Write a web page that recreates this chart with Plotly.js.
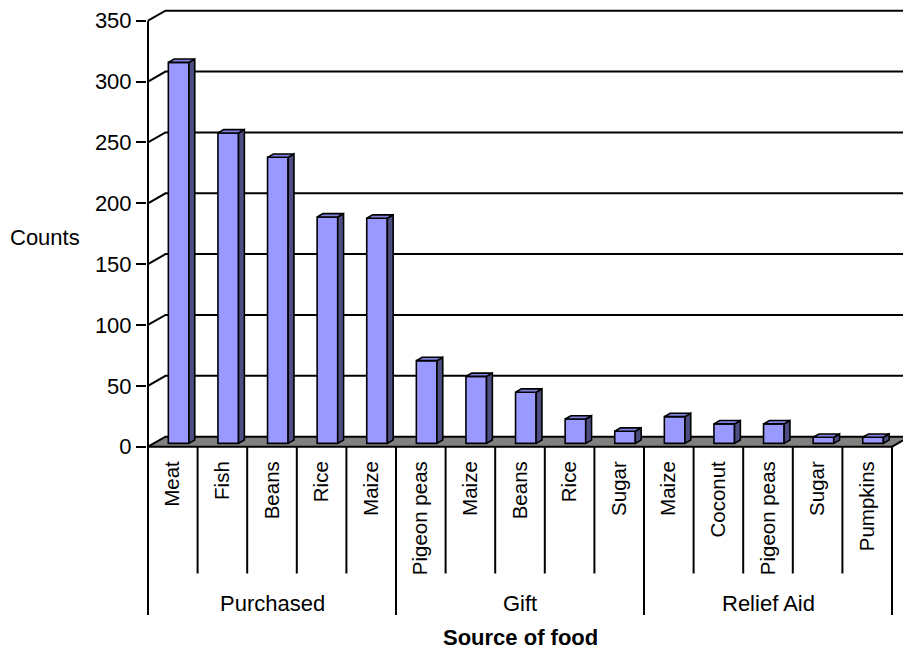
<!DOCTYPE html>
<html><head><meta charset="utf-8">
<script src="https://cdn.plot.ly/plotly-3.0.1.min.js"></script>
<style>html,body{margin:0;padding:0;background:#fff;}#chart{width:903px;height:651px;}</style>
</head><body><div id="chart"></div>
<script>
// ---- data ----
const foods = ["Meat","Fish","Beans","Rice","Maize","Pigeon peas","Maize","Beans","Rice","Sugar","Maize","Coconut","Pigeon peas","Sugar","Pumpkins"];
const sources = ["Purchased","Purchased","Purchased","Purchased","Purchased","Gift","Gift","Gift","Gift","Gift","Relief Aid","Relief Aid","Relief Aid","Relief Aid","Relief Aid"];
const groups = ["Purchased","Gift","Relief Aid"];
const counts = [313,255,235,186,185,68,55,42,20,10,22,16,16,5,5];
const yTicks = [0,50,100,150,200,250,300,350];

// ---- geometry ----
const W = 903, H = 651;
const ML = 147, MR = 0, MT = 9, MB = 202;
const pxPerCat = 49.6, pxPerUnit = 1.2172;
const zeroPxX = 148, zeroPxY = 446.7;
const plotW = W - ML - MR, plotH = H - MT - MB;
const xr0 = -(zeroPxX - ML) / pxPerCat, xr1 = xr0 + plotW / pxPerCat;
const yr0 = -((H - MB) - zeroPxY) / pxPerUnit, yr1 = yr0 + plotH / pxPerUnit;
const DX = 17.5 / pxPerCat, DY = 10 / pxPerUnit;   // wall depth
const bdx = DX / 3, bdy = DY / 3;                  // bar depth
const barW = 0.415;
const N = foods.length;
const FONT = 'Arial, "Liberation Sans", sans-serif';

const px2py = p => ((H - MB) - p) / plotH;  // pixel y -> paper y
const dx2pap = d => (d - xr0) / (xr1 - xr0);

const cx = foods.map((_, i) => i + 0.5 + bdx);

// faces
const sideX = [], sideY = [], topX = [], topY = [];
counts.forEach((v, i) => {
  const xl = cx[i] - barW / 2, xr = cx[i] + barW / 2;
  const b = bdy, t = bdy + v;
  sideX.push(xr, xr + bdx, xr + bdx, xr, xr, null);
  sideY.push(b, b + bdy, t + bdy, t, b, null);
  topX.push(xl, xl + bdx, xr + bdx, xr, xl, null);
  topY.push(t, t + bdy, t + bdy, t, t, null);
});

const traces = [
  {type: 'bar', x: cx, y: counts, base: bdy, width: barW,
   marker: {color: '#9999FF', line: {color: '#000', width: 1.6}}, hoverinfo: 'skip'},
  {type: 'scatter', mode: 'lines', x: sideX, y: sideY, fill: 'toself', fillcolor: '#4D4D80',
   line: {color: '#000', width: 1.6}, hoverinfo: 'skip'},
  {type: 'scatter', mode: 'lines', x: topX, y: topY, fill: 'toself', fillcolor: '#8282E0',
   line: {color: '#000', width: 1.6}, hoverinfo: 'skip'}
];

const shapes = [];
// floor
shapes.push({type: 'path', xref: 'x', yref: 'y', layer: 'below',
  path: `M 0,0 L ${N},0 L ${N + DX},${DY} L ${DX},${DY} Z`,
  fillcolor: '#808080', line: {color: '#000', width: 2}});
// back-wall gridlines
yTicks.filter(v => v > 0).forEach(v => {
  shapes.push({type: 'path', xref: 'x', yref: 'y', layer: 'below',
    path: `M 0,${v} L ${DX},${v + DY} L ${xr1 + 1},${v + DY}`,
    line: {color: '#000', width: 2}});
});
// value axis line
shapes.push({type: 'line', xref: 'x', yref: 'y', x0: 0, x1: 0, y0: 0, y1: yTicks[yTicks.length - 1],
  line: {color: '#000', width: 2}});
// category dividers
for (let k = 0; k <= N; k++) {
  const isGroup = (k === 0 || k === N || sources[k] !== sources[k - 1]);
  const xp = dx2pap(k);
  shapes.push({type: 'line', xref: 'paper', yref: 'paper', x0: xp, x1: xp,
    y0: px2py(zeroPxY), y1: px2py(isGroup ? 615 : 573.5), line: {color: '#000', width: 2}});
}

const annotations = [];
groups.forEach(g => {
  const idx = sources.map((s, i) => s === g ? i : -1).filter(i => i >= 0);
  const mid = (idx[0] + idx[idx.length - 1] + 1) / 2;
  annotations.push({xref: 'x', yref: 'paper', x: mid, y: px2py(603), text: g, showarrow: false,
    xanchor: 'center', yanchor: 'middle', font: {size: 22, color: '#000', family: FONT}});
});
annotations.push({xref: 'paper', yref: 'paper', x: (45 - ML) / plotW, y: px2py(237), text: 'Counts',
  showarrow: false, xanchor: 'center', yanchor: 'middle', font: {size: 22, color: '#000', family: FONT}});
annotations.push({xref: 'x', yref: 'paper', x: N / 2, y: px2py(637), text: '<b>Source of food</b>',
  showarrow: false, xanchor: 'center', yanchor: 'middle', font: {size: 22, color: '#000', family: FONT}});

const layout = {
  width: W, height: H,
  margin: {l: ML, r: MR, t: MT, b: MB, pad: 0},
  paper_bgcolor: '#fff', plot_bgcolor: 'rgba(0,0,0,0)',
  showlegend: false,
  font: {family: FONT, size: 20, color: '#000'},
  xaxis: {type: 'linear', range: [xr0, xr1], tickvals: foods.map((_, i) => i + 0.5), ticktext: foods,
    tickangle: -90, ticks: 'outside', ticklen: 3, tickcolor: 'rgba(0,0,0,0)',
    showgrid: false, zeroline: false, showline: false, fixedrange: true,
    tickfont: {size: 20.5, color: '#000', family: FONT}},
  yaxis: {range: [yr0, yr1], tickvals: yTicks, ticktext: yTicks.map(String), ticks: 'outside', ticklen: 10,
    tickwidth: 2, tickcolor: '#000', showgrid: false, zeroline: false, showline: false, fixedrange: true,
    tickfont: {size: 22, color: '#000', family: FONT}},
  shapes: shapes,
  annotations: annotations
};

Plotly.newPlot('chart', traces, layout, {staticPlot: true, displayModeBar: false});
</script>
</body></html>
